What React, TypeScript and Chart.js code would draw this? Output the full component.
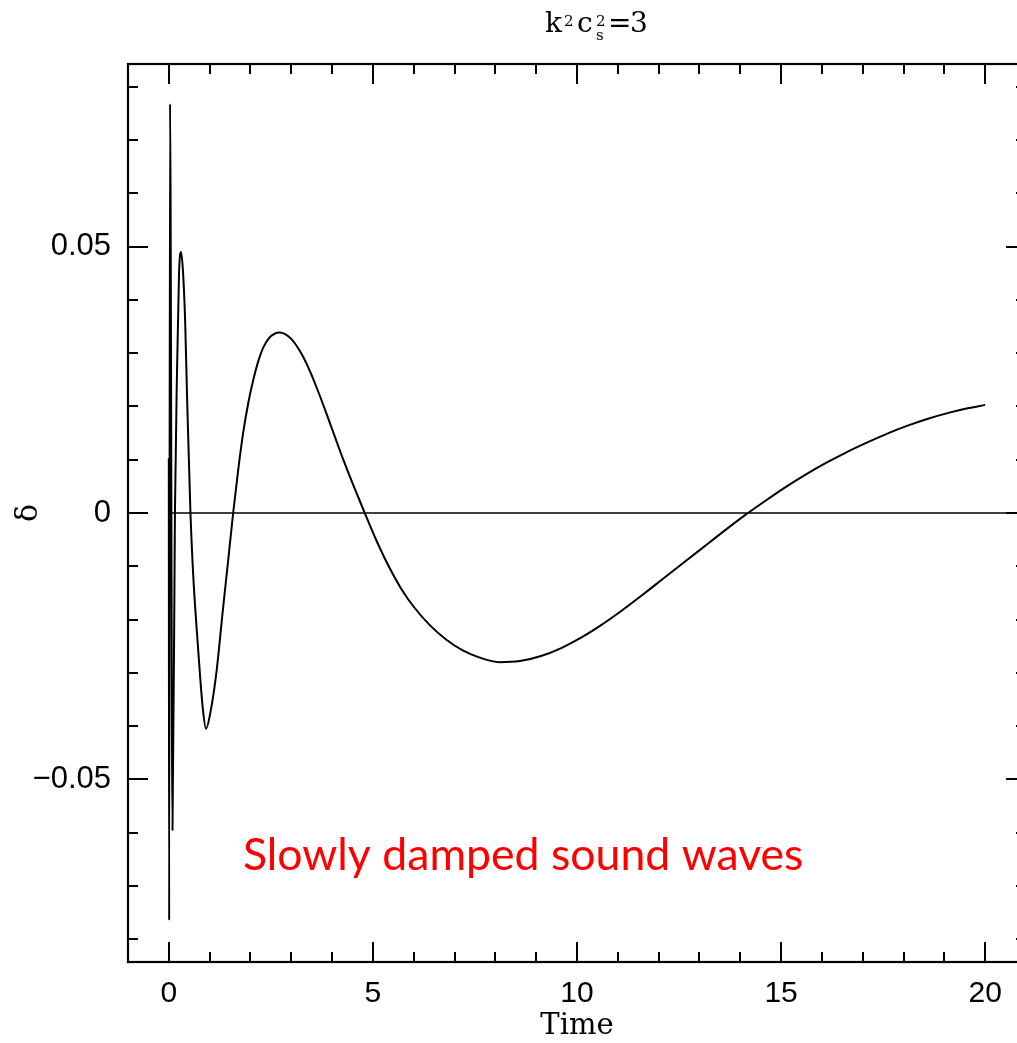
import React, { useEffect, useRef } from 'react';
import { Chart, registerables } from 'chart.js';

Chart.register(...registerables);

// Curve (time, density contrast delta)
const timeValues = [
  0, 0.008, 0.03, 0.09, 0.15, 0.2, 0.25, 0.3, 0.35, 0.4,
  0.45, 0.53, 0.6, 0.68, 0.76, 0.83, 0.91, 1.03, 1.17, 1.32,
  1.45, 1.576, 1.7, 1.82, 1.95, 2.07, 2.2, 2.31, 2.45, 2.6,
  2.72, 2.85, 3.0, 3.13, 3.3, 3.46, 3.65, 3.87, 4.05, 4.27,
  4.5, 4.8, 5.1, 5.4, 5.7, 6.0, 6.4, 6.8, 7.2, 7.6,
  8.1, 8.6, 9.1, 9.6, 10.1, 10.6, 11.1, 11.6, 12.1, 12.6,
  13.1, 13.6, 14.1, 14.6, 15.1, 15.6, 16.1, 16.6, 17.1, 17.6,
  18.1, 18.6, 19.1, 19.6, 20.0,
];
const deltaValues = [
  0.0103, -0.0765, 0.0768, -0.0595, 0.0, 0.0263, 0.045, 0.049, 0.045, 0.036,
  0.021, 0.0, -0.012, -0.0215, -0.030, -0.0365, -0.0405, -0.0370, -0.0297, -0.0185,
  -0.0092, 0.0, 0.0081, 0.0150, 0.0208, 0.0250, 0.0287, 0.0310, 0.0328, 0.0337,
  0.0339, 0.0336, 0.0327, 0.0314, 0.0292, 0.0266, 0.0230, 0.0185, 0.0147, 0.0101,
  0.0056, 0.0, -0.0054, -0.0102, -0.0143, -0.0176, -0.0211, -0.0238, -0.0258, -0.0271,
  -0.0280, -0.0278, -0.0269, -0.0254, -0.0234, -0.0210, -0.0183, -0.0154, -0.0124, -0.0094,
  -0.0064, -0.0034, -0.0005, 0.0022, 0.0048, 0.0072, 0.0094, 0.0114, 0.0132, 0.0149,
  0.0164, 0.0177, 0.0188, 0.0197, 0.0203,
];

// Reference zero line
const zeroLineTimes = [0, 21];
const zeroLineValues = [0, 0];

// Axes
const xRange = [-1, 21];
const yRange = [-0.0843, 0.0843];
const xMajorTicks = [0, 5, 10, 15, 20];
const xMinorTicks = [1, 2, 3, 4, 6, 7, 8, 9, 11, 12, 13, 14, 16, 17, 18, 19];
const yMajorTicks = [-0.05, 0, 0.05];
const yMinorTicks = [-0.08, -0.07, -0.06, -0.04, -0.03, -0.02, -0.01, 0.01, 0.02, 0.03, 0.04, 0.06, 0.07, 0.08];

const xTitle = 'Time';
const yTitle = 'δ';
const annotationText = 'Slowly damped sound waves';

const CANVAS_W = 1040;
const CANVAS_H = 1043;

const framePlugin = {
  id: 'pgFrame',
  afterDatasetsDraw(chart: any) {
    const { ctx, chartArea, scales } = chart;
    const { left, right, top, bottom } = chartArea;
    const x = scales.x;
    const y = scales.y;
    ctx.save();
    ctx.strokeStyle = '#000';
    ctx.lineWidth = 2.2;
    ctx.lineCap = 'butt';
    ctx.strokeRect(left, top, right - left, bottom - top);
    const seg = (x1: number, y1: number, x2: number, y2: number) => {
      ctx.beginPath();
      ctx.moveTo(x1, y1);
      ctx.lineTo(x2, y2);
      ctx.stroke();
    };
    ctx.lineWidth = 2;
    const xTick = (v: number, len: number) => {
      const p = Math.round(x.getPixelForValue(v));
      seg(p, bottom, p, bottom - len);
      seg(p, top, p, top + len);
    };
    const yTick = (v: number, len: number) => {
      const p = Math.round(y.getPixelForValue(v));
      seg(left, p, left + len, p);
      seg(right, p, right - len, p);
    };
    xMajorTicks.forEach((v) => xTick(v, 20));
    xMinorTicks.forEach((v) => xTick(v, 10));
    yMajorTicks.forEach((v) => yTick(v, 20));
    yMinorTicks.forEach((v) => yTick(v, 10));

    // Title: k^2 c_s^2 = 3
    ctx.fillStyle = '#000';
    ctx.textBaseline = 'alphabetic';
    ctx.textAlign = 'left';
    const big = '28px "DejaVu Serif"';
    const small = '15px "DejaVu Serif"';
    const base = 32;
    ctx.font = big;
    ctx.fillText('k', 545, base);
    ctx.font = small;
    ctx.fillText('2', 564, base - 6);
    ctx.font = big;
    ctx.fillText('c', 577, base);
    ctx.font = small;
    ctx.fillText('2', 596, base - 6);
    ctx.fillText('s', 596, base + 8);
    ctx.font = big;
    ctx.fillText('=', 608, base);
    ctx.fillText('3', 630, base);

    // Red annotation
    ctx.fillStyle = '#ff0000';
    ctx.font = '40px Lato';
    const w = ctx.measureText(annotationText).width;
    const size = 40 * 560 / w;
    ctx.font = `${size.toFixed(1)}px Lato`;
    ctx.fillText(annotationText, 243, 870);
    ctx.restore();
  },
};

const fmtY = (v: number) => {
  if (Math.abs(v) < 1e-9) return '0';
  return (v < 0 ? '\u2212' : '') + Math.abs(v).toFixed(2);
};

export default function App() {
  const ref = useRef<HTMLCanvasElement | null>(null);
  useEffect(() => {
    if (!ref.current) return;
    const chart = new Chart(ref.current, {
      type: 'line',
      data: {
        datasets: [
          {
            data: timeValues.map((t, i) => ({ x: t, y: deltaValues[i] })),
            borderColor: '#000',
            borderWidth: 2,
            pointRadius: 0,
            fill: false,
            cubicInterpolationMode: 'monotone',
          },
          {
            data: zeroLineTimes.map((t, i) => ({ x: t, y: zeroLineValues[i] })),
            borderColor: '#000',
            borderWidth: 1.7,
            pointRadius: 0,
            fill: false,
          },
        ],
      },
      options: {
        responsive: false,
        animation: false,
        events: [],
        layout: { padding: { top: 64, right: 14, left: 0, bottom: 0 } },
        plugins: {
          legend: { display: false },
          tooltip: { enabled: false },
          title: { display: false },
        },
        scales: {
          x: {
            type: 'linear',
            min: xRange[0],
            max: xRange[1],
            afterFit: (s: any) => { s.height = 81; },
            grid: { display: false, drawTicks: false },
            border: { display: false },
            ticks: {
              stepSize: 5,
              includeBounds: false,
              padding: 14,
              autoSkip: false,
              maxRotation: 0,
              color: '#000',
              font: { family: '"Liberation Sans"', size: 30 },
              callback: (v: any) => String(v),
            },
            title: {
              display: true,
              text: xTitle,
              color: '#000',
              padding: { top: 0, bottom: -1 },
              font: { family: 'DejaVu Serif', size: 29 },
            },
          },
          y: {
            type: 'linear',
            min: yRange[0],
            max: yRange[1],
            afterFit: (s: any) => { s.width = 128; },
            grid: { display: false, drawTicks: false },
            border: { display: false },
            ticks: {
              stepSize: 0.05,
              includeBounds: false,
              padding: 17,
              autoSkip: false,
              color: '#000',
              font: { family: '"Liberation Sans"', size: 31 },
              callback: (v: any) => fmtY(Number(v)),
            },
            title: {
              display: true,
              text: yTitle,
              color: '#000',
              padding: { top: 11, bottom: 0 },
              font: { family: 'DejaVu Serif', size: 30 },
            },
          },
        },
      },
      plugins: [framePlugin],
    } as any);
    return () => chart.destroy();
  }, []);
  return (
    <div style={{ position: 'fixed', left: 0, top: 0, width: 1017, height: 1043, overflow: 'hidden', background: '#fff' }}>
      <canvas ref={ref} width={CANVAS_W} height={CANVAS_H} style={{ display: 'block', width: CANVAS_W, height: CANVAS_H }} />
    </div>
  );
}
